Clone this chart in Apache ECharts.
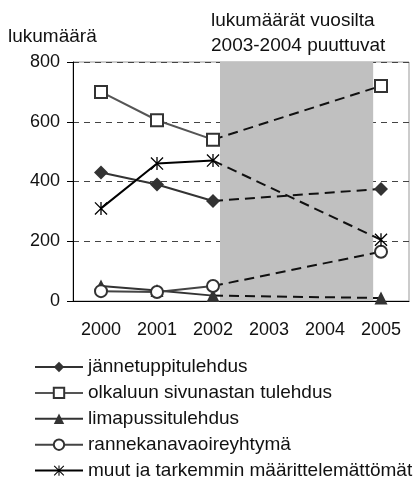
<!DOCTYPE html>
<html lang="fi">
<head>
    <meta charset="UTF-8">
    <script src="https://cdn.jsdelivr.net/npm/echarts@6/dist/echarts.min.js"></script>
    <style>
        html, body {margin:0; padding:0; background:#fff;}
        #chart {width:418px; height:477px;}
    </style>
    <title>lukumäärä</title>
</head>
<body>
    <div id="chart"></div>
    <script>
        // vuodet ja arvot (2003-2004 puuttuu)
        const years = ['2000', '2001', '2002', '2003', '2004', '2005'];
        const names = [
            'jännetuppitulehdus',
            'olkaluun sivunastan tulehdus',
            'limapussitulehdus',
            'rannekanavaoireyhtymä',
            'muut ja tarkemmin määrittelemättömät'
        ];
        const jannetuppi = [430, 390, 335, null, null, 375];
        const olkaluu = [700, 605, 540, null, null, 720];
        const limapussi = [50, 35, 18, null, null, 10];
        const ranne = [33, 30, 50, null, null, 165];
        const muut = [310, 460, 470, null, null, 205];
        const yTicks = {min: 0, max: 800, interval: 200};
        // harmaa alue (x-akselin sisäinen asteikko 0..6)
        const band = [2.625, 5.36];

        const star = 'path://M9 0H11V20H9Z M0 1.4L1.4 0L20 18.6L18.6 20Z M18.6 0L20 1.4L1.4 20L0 18.6Z';

        const styles = [
            {data: jannetuppi, symbol: 'diamond', size: 14, fill: '#333', border: '#333', bw: 0, line: '#333'},
            {data: olkaluu, symbol: 'rect', size: 12, fill: '#fff', border: '#333', bw: 2, line: '#555'},
            {data: limapussi, symbol: 'triangle', size: 13, fill: '#333', border: '#333', bw: 0, line: '#333'},
            {data: ranne, symbol: 'circle', size: 12, fill: '#fff', border: '#333', bw: 2, line: '#444'},
            {data: muut, symbol: star, size: 13, fill: '#000', border: '#000', bw: 0, line: '#000'}
        ];

        let series = [];
        // harmaa tausta
        series.push({
            type: 'line',
            xAxisIndex: 1,
            data: [],
            z: -1,
            silent: true,
            markArea: {
                silent: true,
                itemStyle: {color: '#c0c0c0'},
                data: [[{xAxis: band[0]}, {xAxis: band[1]}]]
            }
        });

        styles.forEach((s, i) => {
            let solid = s.data.map((v, j) => j <= 2 ? v : null);
            let dashed = s.data.map((v, j) => {
                if (j == 2) return {value: v, symbol: 'none'};
                if (j == 5) return v;
                return null;
            });
            let item = {color: s.fill, borderColor: s.border, borderWidth: s.bw};
            series.push({
                name: names[i],
                type: 'line',
                data: solid,
                symbol: s.symbol,
                symbolSize: s.size,
                showAllSymbol: true,
                itemStyle: item,
                lineStyle: {color: s.line, width: 2, type: 'solid'},
                z: 3 + i
            });
            series.push({
                name: names[i] + '_',
                type: 'line',
                data: dashed,
                connectNulls: true,
                symbol: s.symbol,
                symbolSize: s.size,
                itemStyle: item,
                lineStyle: {color: '#111', width: 2, type: [10, 6]},
                z: 3 + i
            });
        });

        let chart = echarts.init(document.getElementById('chart'));
        chart.setOption({
            animation: false,
            textStyle: {fontFamily: 'Liberation Sans, Arial, sans-serif'},
            grid: {left: 73, right: 9, top: 62, bottom: 176, show: true, borderColor: '#999', borderWidth: 1},
            graphic: [
                {type: 'text', left: 8, top: 27, style: {text: 'lukumäärä', fontSize: 19, fill: '#111', fontFamily: 'Liberation Sans, Arial, sans-serif'}},
                {type: 'text', left: 211, top: 8, style: {text: 'lukumäärät vuosilta\n2003-2004 puuttuvat', fontSize: 19, lineHeight: 25, fill: '#111', fontFamily: 'Liberation Sans, Arial, sans-serif'}}
            ],
            legend: {
                orient: 'vertical',
                left: 34,
                top: 357,
                height: 200,
                padding: 0,
                itemWidth: 48,
                itemHeight: 13,
                itemGap: 5.9,
                textStyle: {fontSize: 19, lineHeight: 20, color: '#111'},
                data: names
            },
            xAxis: [{
                type: 'category',
                data: years,
                boundaryGap: true,
                axisLine: {lineStyle: {color: '#000', width: 1}},
                axisTick: {show: false},
                axisLabel: {fontSize: 18, color: '#111', margin: 20}
            }, {
                type: 'value',
                min: 0,
                max: 6,
                show: false
            }],
            yAxis: {
                type: 'value',
                min: yTicks.min,
                max: yTicks.max,
                interval: yTicks.interval,
                axisLine: {show: true, lineStyle: {color: '#000', width: 1}},
                axisTick: {show: true, length: 6, lineStyle: {color: '#000'}},
                axisLabel: {fontSize: 18, color: '#111', margin: 13},
                splitLine: {lineStyle: {color: '#444', type: [6, 5], width: 1}}
            },
            series: series
        });
    </script>
</body>
</html>
